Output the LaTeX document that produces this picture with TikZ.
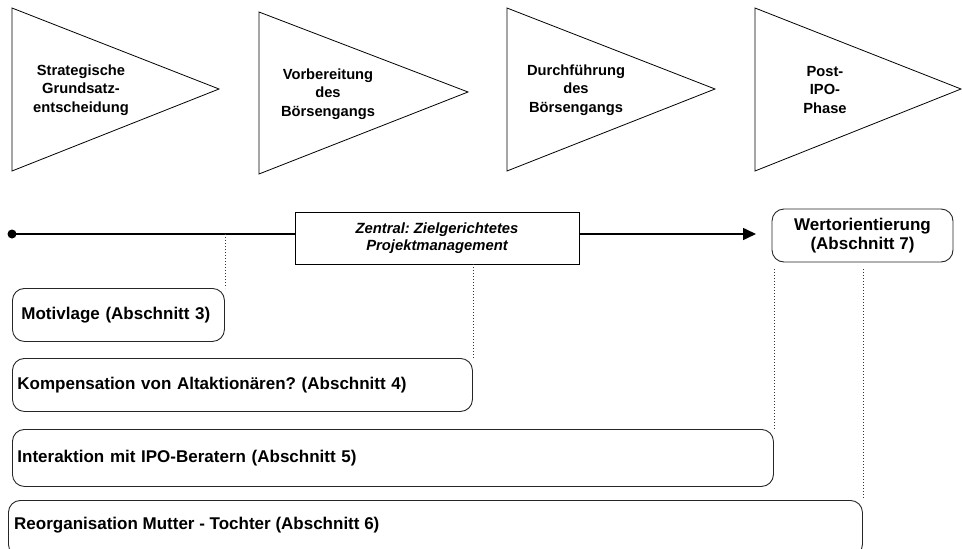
\documentclass[tikz,border=0pt]{standalone}
\usepackage{fontspec}
\setmainfont{Liberation Sans}
\usetikzlibrary{arrows.meta}
\frenchspacing
\tikzset{
  phase/.style={draw=black, line width=0.8pt, line join=miter},
  phasetext/.style={align=center, font=\fontsize{14.7}{18.5}\selectfont\bfseries, inner sep=0pt},
  pbox/.style={draw=black!85, line width=0.9pt, rounded corners=12pt, align=left,
    font=\fontsize{17}{20}\selectfont\bfseries, inner ysep=0pt, anchor=north west},
  cbox/.style={draw=black, line width=0.9pt, align=center,
    font=\fontsize{14.8}{17}\selectfont\bfseries\itshape, inner sep=0pt},
  wbox/.style={draw=black!85, line width=0.9pt, rounded corners=12pt, align=center,
    font=\fontsize{17}{19}\selectfont\bfseries, inner sep=0pt},
  tline/.style={line width=1.6pt},
  dotline/.style={line width=0.8pt, dash pattern=on 1pt off 2pt, black!80},
}
\begin{document}
\begin{tikzpicture}[x=1pt, y=-1pt]
\useasboundingbox (0,0) rectangle (962,549);
\clip (0,0) rectangle (962,549);
% phase triangles
\draw[phase] (12,8) -- (219,89) -- (12,171) -- cycle;
\draw[phase] (259,12) -- (468,92) -- (259,174) -- cycle;
\draw[phase] (507,8) -- (715,89) -- (507,171) -- cycle;
\draw[phase] (755,8) -- (961,89) -- (755,171) -- cycle;
\node[phasetext] (p1) at (81,90) {Strategische\\Grundsatz-\\entscheidung};
\node[phasetext] (p2) at (328,94) {Vorbereitung\\des\\Börsengangs};
\node[phasetext] (p3) at (576,90) {Durchführung\\des\\Börsengangs};
\node[phasetext] (p4) at (825,90) {Post-\\IPO-\\Phase};
% timeline
\coordinate (start) at (12,234);
\coordinate (tip) at (756,234);
\node[cbox, minimum width=284pt, minimum height=52pt] (cen) at (437,238) {Zentral: Zielgerichtetes\\Projektmanagement};
\fill (start) circle (4.5pt);
\draw[tline] (start) -- (start -| cen.west);
\draw[tline, -{Triangle[length=13pt, width=12pt]}] (cen.east |- start) -- (tip);
\node[wbox, minimum width=181pt, minimum height=53pt] (wert) at (862.5,235.5) {Wertorientierung\\(Abschnitt 7)};
% boxes
\node[pbox, inner xsep=9pt, minimum width=212pt, text width=194pt, minimum height=53pt] (mot) at (12,288) {Motivlage (Abschnitt 3)};
\node[pbox, inner xsep=5pt, minimum width=460pt, text width=450pt, minimum height=53pt] (kom) at (12,358) {Kompensation von Altaktionären? (Abschnitt 4)};
\node[pbox, inner xsep=5pt, minimum width=761pt, text width=751pt, minimum height=57pt] (int) at (12,429) {Interaktion mit IPO-Beratern (Abschnitt 5)};
\node[pbox, inner xsep=6pt, minimum width=854pt, text width=842pt, minimum height=56pt, text depth=0pt] (reo) at (8,500) {};
\node[font=\fontsize{17}{20}\selectfont\bfseries, anchor=west, inner sep=0pt] (reot) at (14,525) {Reorganisation Mutter - Tochter (Abschnitt 6)};
% dotted connectors
\draw[dotline] (mot.north east |- start) -- (mot.north east);
\draw[dotline] (kom.north east |- cen.south) -- (kom.north east);
\draw[dotline] ([yshift=-7pt]int.north east |- wert.south) -- (int.north east);
\draw[dotline] ([yshift=-7pt]reo.north east |- wert.south) -- (reo.north east);
\end{tikzpicture}
\end{document}
